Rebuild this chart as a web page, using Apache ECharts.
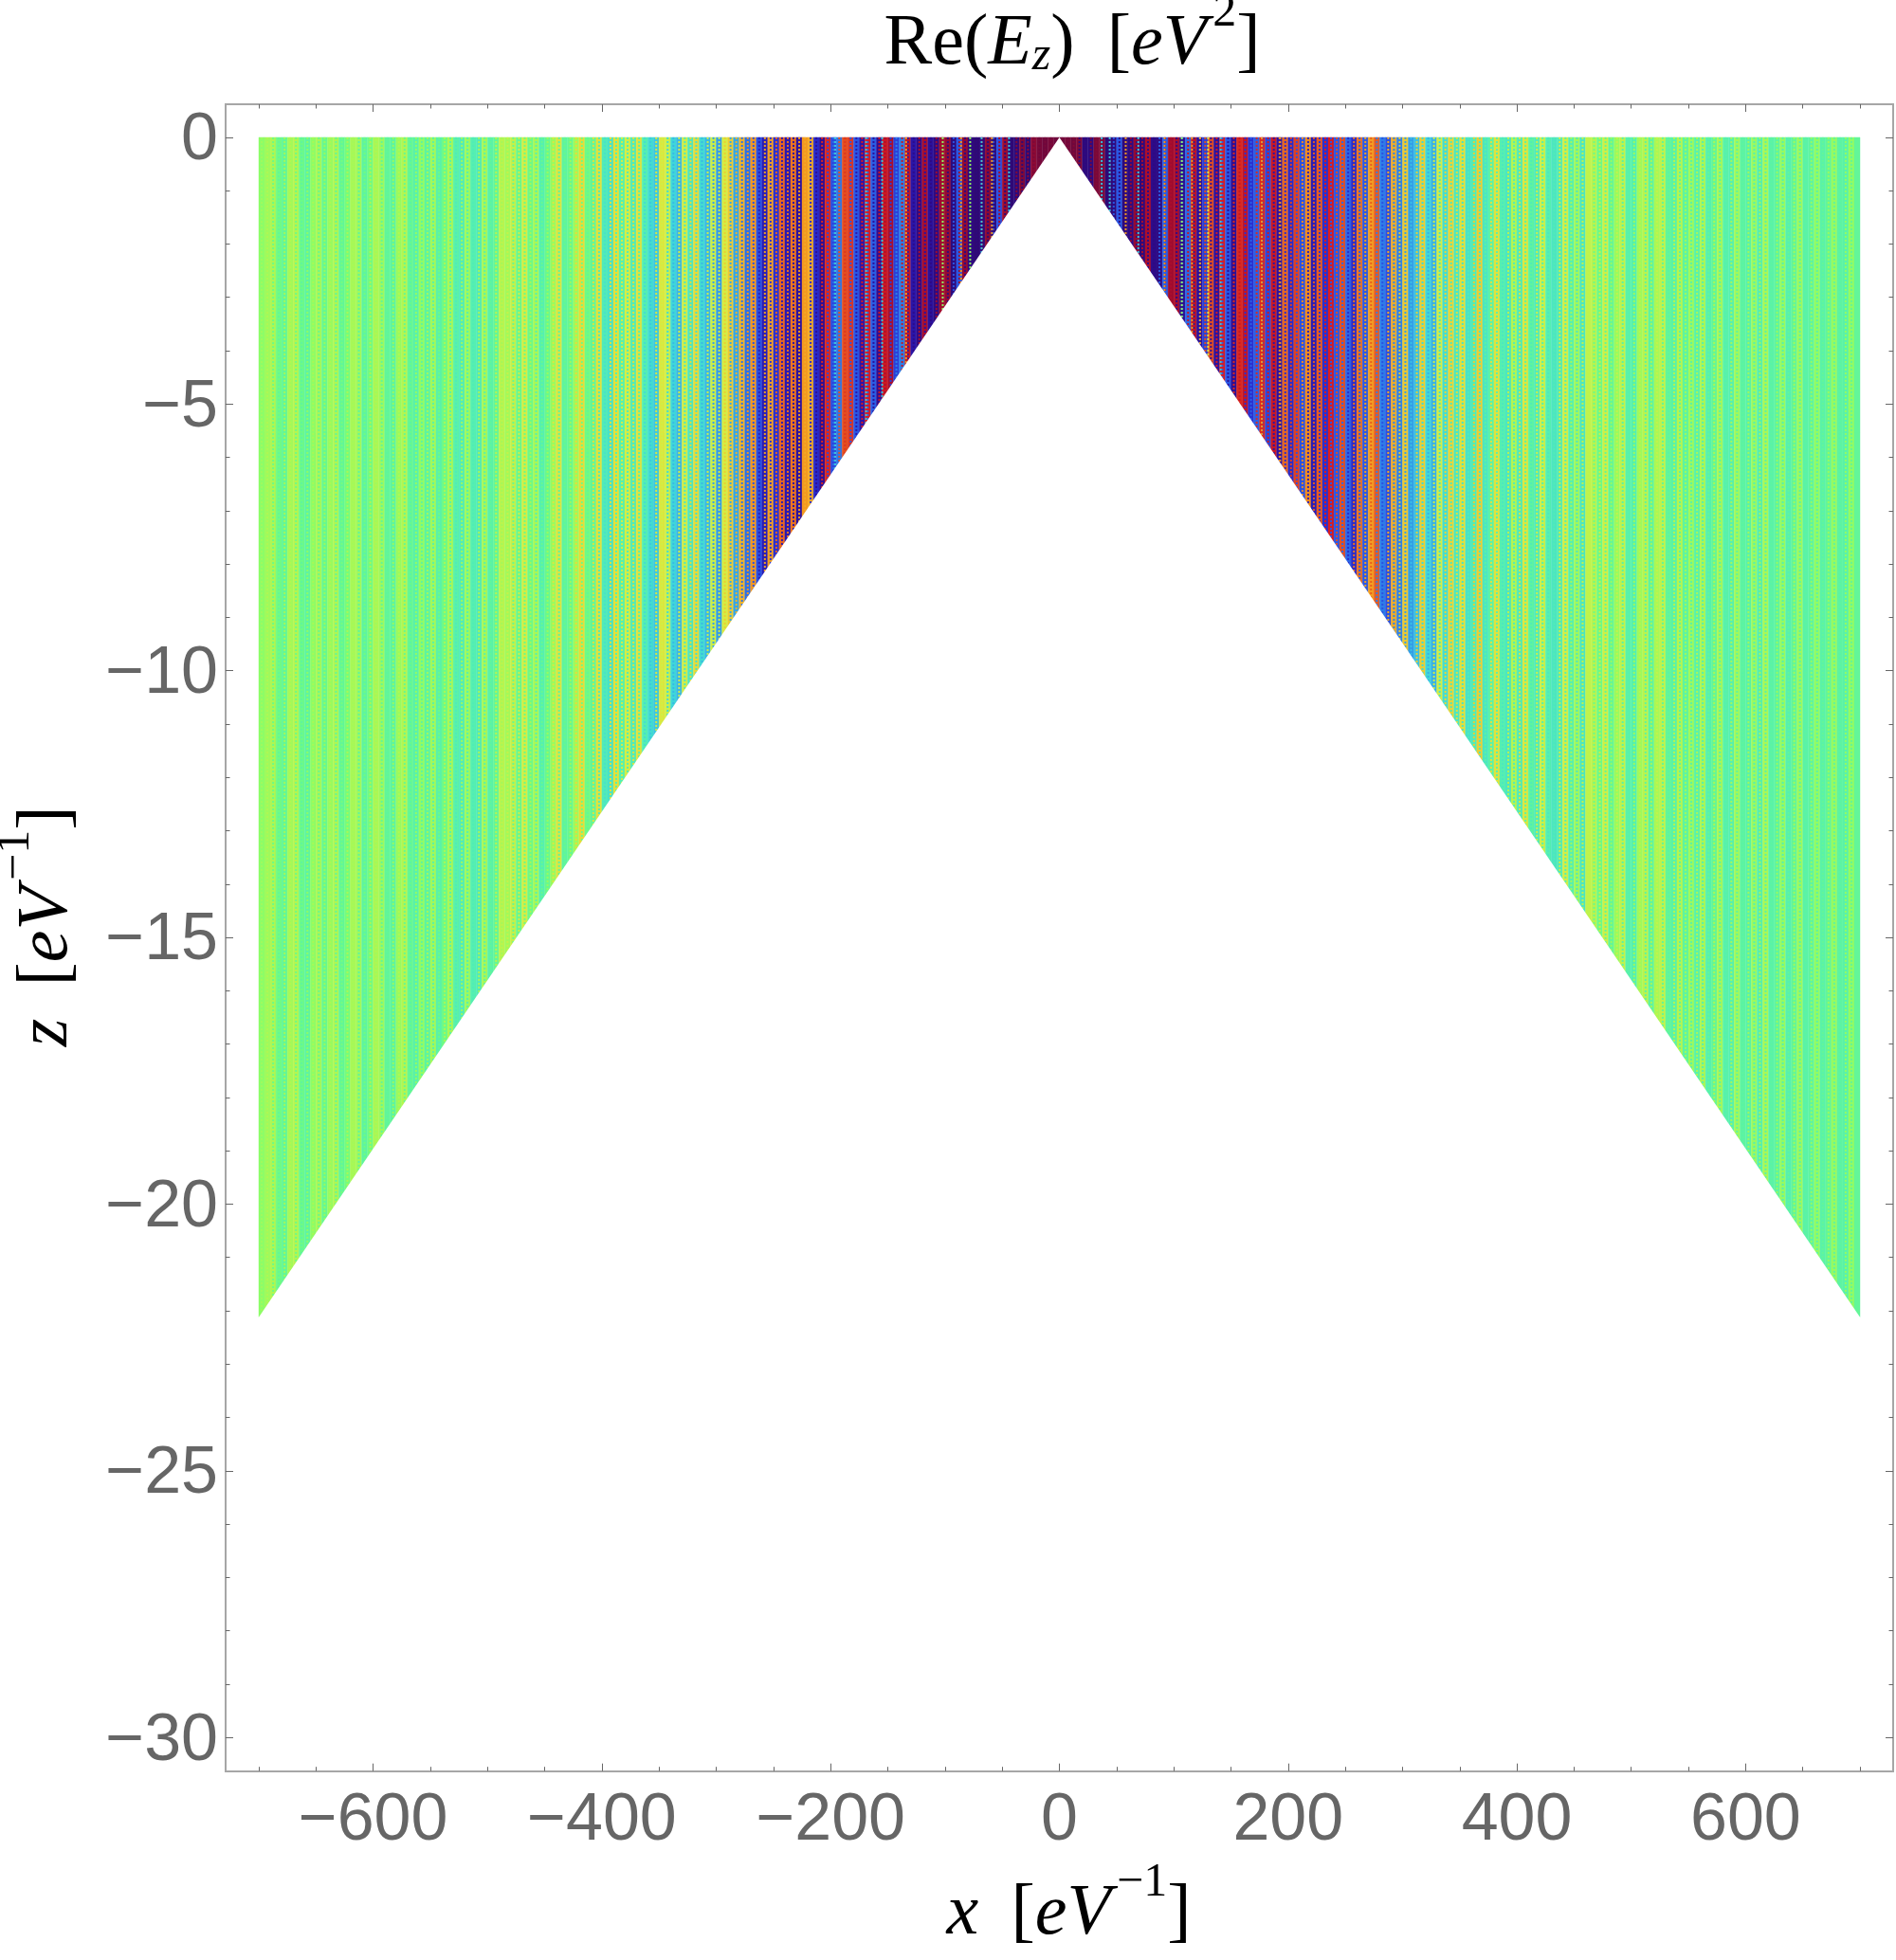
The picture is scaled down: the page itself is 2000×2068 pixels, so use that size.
<!DOCTYPE html>
<html>
<head>
<meta charset="utf-8">
<title>Re(Ez)</title>
<script src="https://cdn.jsdelivr.net/npm/echarts@6/dist/echarts.min.js"></script>
<style>
  html, body { margin: 0; padding: 0; background: #fff; }
  #main { width: 2000px; height: 2068px; }
</style>
</head>
<body>
<div id="main"></div>
<script>
// field value per 5 eV^-1 cell, read by eye off the stripes, -100 darkest blue .. 100 darkest red
var leftValues = [
  5,12,18,-8,-14,14,20,-10,-16,6,16,-12,10,18,-14,-6,16,14,-16,-8,18,12,-14,-16,10,20,-12,-18,8,-16,14,-18,-10,16,-18,-22,12,-20,-22,16,-18,-14,22,14,26,-12,30,
  -10,16,-20,-12,10,34,-16,-12,12,40,-8,-14,36,-22,-26,38,-20,30,-22,36,-20,-28,-34,34,28,-30,-38,30,-24,40,-28,-38,28,-44,30,45,-42,52,-54,60,-62,-78,58,-70,68,-80,66,
  -85,60,55,-72,-88,78,-64,-52,72,76,-60,-82,80,-58,-88,82,88,-66,-50,84,-82,-92,88,-86,-94,90,92,-96,-60,92,-94,-98,-96,94,-98,-62,90,-98,-96,96,-98,94,98,100,98,100
];
var rightValues = [
  100,98,100,96,-96,-94,98,96,-98,-96,-60,-96,-94,92,-96,88,-92,-94,-58,90,88,-92,-56,84,-88,-66,72,-86,80,-60,-88,78,84,-70,-58,78,-64,82,-84,68,-72,74,-62,62,-78,70,
  -70,80,-60,72,-56,-72,66,-60,58,70,-50,-62,54,-50,46,-44,-36,44,-30,-40,30,-28,42,-24,38,-26,-22,44,-24,-18,36,-20,-24,20,-22,34,-16,-22,28,-20,-24,-22,30,-20,14,-24,24,
  22,-10,28,-14,10,24,-18,-20,12,22,-16,16,24,-14,-18,20,-16,12,-18,18,-20,-14,16,-18,-20,14,-16,-18,12,-20,16,-18,-16,10,-20,-14,12,-18,-16,8,-18,-14,10,-16,-18,8,-14
];
// thin bright dotted lines inside the dark part
var accentX = [-224,-196,-169,-155,-134,-102,-86,-78,-68,-59,-44,37,44,58,69,92,107,116,123,130,141,177,193];
var accentV = [60,-34,-34,-34,60,8,60,8,-34,60,-34,-34,-34,60,-34,60,8,60,55,35,-34,60,60];

var cellWidth = 5;
var stripeStart = -700;
var stripeBottom = -22.12;
// outline of the empty part under the cone, with a thin strip below the cut
var wedgeX = [-700, 0, 700, 700, -700];
var wedgeZ = [-22.12, 0, -22.12, -22.3, -22.3];

var xMajor = [-600, -400, -200, 0, 200, 400, 600];
var xMinor = [-700,-650,-550,-500,-450,-350,-300,-250,-150,-100,-50,50,100,150,250,300,350,450,500,550,650,700];
var zMajor = [0, -5, -10, -15, -20, -25, -30];
var zMinor = [-1,-2,-3,-4,-6,-7,-8,-9,-11,-12,-13,-14,-16,-17,-18,-19,-21,-22,-23,-24,-26,-27,-28,-29];

// one stop every 10 units from -100 to 100
var fieldColors = ['#30086e','#2c0c90','#2a18b0','#2a30d0','#2a58e6','#2e80e8','#36b0e8','#40d8d8','#55f0b0','#6cfa88','#80ff70',
  '#98fb60','#b4f650','#d4ee44','#e8dc38','#f0bc2c','#f49a20','#e85c20','#d81c20','#a00c30','#70083c'];

var stripes = [];
var dots = [];
leftValues.forEach(function (v, i) {
  stripes.push([stripeStart + i * cellWidth, stripeStart + (i + 1) * cellWidth, v]);
  if (i + 1 < leftValues.length) dots.push([stripeStart + (i + 0.5) * cellWidth, 0, leftValues[i + 1]]);
});
rightValues.forEach(function (v, i) {
  stripes.push([i * cellWidth, (i + 1) * cellWidth, v]);
  if (i + 1 < rightValues.length) dots.push([(i + 0.5) * cellWidth, 0, rightValues[i + 1]]);
});
accentX.forEach(function (x, i) {
  dots.push([x, 0, accentV[i]]);
});

function fmt(v) {
  return String(v).replace('-', '\u2212');
}

function xAxisOf(position, ticks, len, labels) {
  return {
    type: 'value', position: position, min: -729, max: 729,
    splitLine: { show: false },
    axisLine: { show: true, onZero: false, lineStyle: { color: '#a6a6a6', width: 2 } },
    axisTick: { show: true, inside: true, length: len, customValues: ticks, lineStyle: { color: '#666', width: 1 } },
    axisLabel: labels ? {
      show: true, customValues: ticks, margin: 18, fontSize: 70, color: '#666',
      fontFamily: 'Liberation Sans', formatter: fmt
    } : { show: false }
  };
}

function yAxisOf(position, ticks, len, labels) {
  return {
    type: 'value', position: position, min: -30.63, max: 0.62,
    splitLine: { show: false },
    axisLine: { show: true, onZero: false, lineStyle: { color: '#a6a6a6', width: 2 } },
    axisTick: { show: true, inside: true, length: len, customValues: ticks, lineStyle: { color: '#666', width: 1 } },
    axisLabel: labels ? {
      show: true, customValues: ticks, margin: 8,
      formatter: function (v) { return '{n|' + fmt(v) + '}'; },
      rich: { n: { fontSize: 70, color: '#666', fontFamily: 'Liberation Sans', padding: [8, 0, 0, 0] } }
    } : { show: false }
  };
}

var serif = 'Liberation Serif';
var nameRich = {
  i: { fontFamily: serif, fontStyle: 'italic', fontWeight: 'normal', fontSize: 76, color: '#000', lineHeight: 96, verticalAlign: 'bottom' },
  r: { fontFamily: serif, fontWeight: 'normal', fontSize: 76, color: '#000', lineHeight: 96, verticalAlign: 'bottom' },
  sup: { fontFamily: serif, fontWeight: 'normal', fontSize: 50, color: '#000', lineHeight: 96, verticalAlign: 'top', padding: [0, 0, 0, 6] },
  sub: { fontFamily: serif, fontStyle: 'italic', fontWeight: 'normal', fontSize: 50, color: '#000', lineHeight: 80, verticalAlign: 'bottom' }
};

var xBottom = xAxisOf('bottom', xMajor, 8, true);
xBottom.name = '{i|x}{r| \u2009[}{i|eV}{sup|\u22121}{r|]}';
xBottom.nameLocation = 'middle';
xBottom.nameGap = 90;
xBottom.nameTextStyle = { rich: nameRich, padding: [0, 0, 0, 20] };

var yLeft = yAxisOf('left', zMajor, 8, true);
yLeft.name = '{i|z}{r| \u2009[}{i|eV}{sup|\u22121}{r|]}';
yLeft.nameLocation = 'middle';
yLeft.nameRotate = 90;
yLeft.nameGap = 150;
yLeft.nameTextStyle = { rich: nameRich, padding: [0, 0, 0, 24] };

var chart = echarts.init(document.getElementById('main'), null, { renderer: 'canvas' });
chart.setOption({
  animation: false,
  backgroundColor: '#fff',
  title: {
    text: '{r|Re(}{i|E}{sub|z}{r|) \u2009[}{i|eV}{sup|2}{r|]}',
    left: 1126, top: -16, textAlign: 'center',
    textStyle: { rich: nameRich }
  },
  grid: { left: 238, top: 110, width: 1759, height: 1758.7, outerBoundsMode: 'none' },
  xAxis: [
    xBottom,
    xAxisOf('bottom', xMinor, 4.5, false),
    xAxisOf('top', xMajor, 8, false),
    xAxisOf('top', xMinor, 4.5, false)
  ],
  yAxis: [
    yLeft,
    yAxisOf('left', zMinor, 4.5, false),
    yAxisOf('right', zMajor, 8, false),
    yAxisOf('right', zMinor, 4.5, false)
  ],
  visualMap: {
    show: false, type: 'continuous', seriesIndex: [0, 1], dimension: 2,
    min: -100, max: 100, inRange: { color: fieldColors }
  },
  series: [
    {
      type: 'custom',
      data: stripes,
      silent: true,
      renderItem: function (params, api) {
        var a = api.coord([api.value(0), 0]);
        var b = api.coord([api.value(1), stripeBottom]);
        var color = api.visual('color');
        return {
          type: 'rect',
          shape: { x: a[0], y: a[1], width: b[0] - a[0], height: b[1] - a[1] },
          style: { fill: color, stroke: color, lineWidth: 0.4 }
        };
      }
    },
    {
      // the checkered columns of the sampled plot
      type: 'custom',
      data: dots,
      silent: true,
      renderItem: function (params, api) {
        var a = api.coord([api.value(0), 0]);
        var b = api.coord([api.value(0), stripeBottom]);
        return {
          type: 'line',
          shape: { x1: a[0], y1: a[1], x2: b[0], y2: b[1] },
          style: { stroke: api.visual('color'), lineWidth: 2, lineDash: [2, 2], fill: null }
        };
      }
    },
    {
      type: 'custom',
      data: [[wedgeX[0], wedgeZ[0]]],
      silent: true,
      renderItem: function (params, api) {
        var pts = wedgeX.map(function (x, i) { return api.coord([x, wedgeZ[i]]); });
        return {
          type: 'polygon',
          shape: { points: pts },
          style: { fill: '#fff' }
        };
      }
    }
  ]
});
</script>
</body>
</html>
